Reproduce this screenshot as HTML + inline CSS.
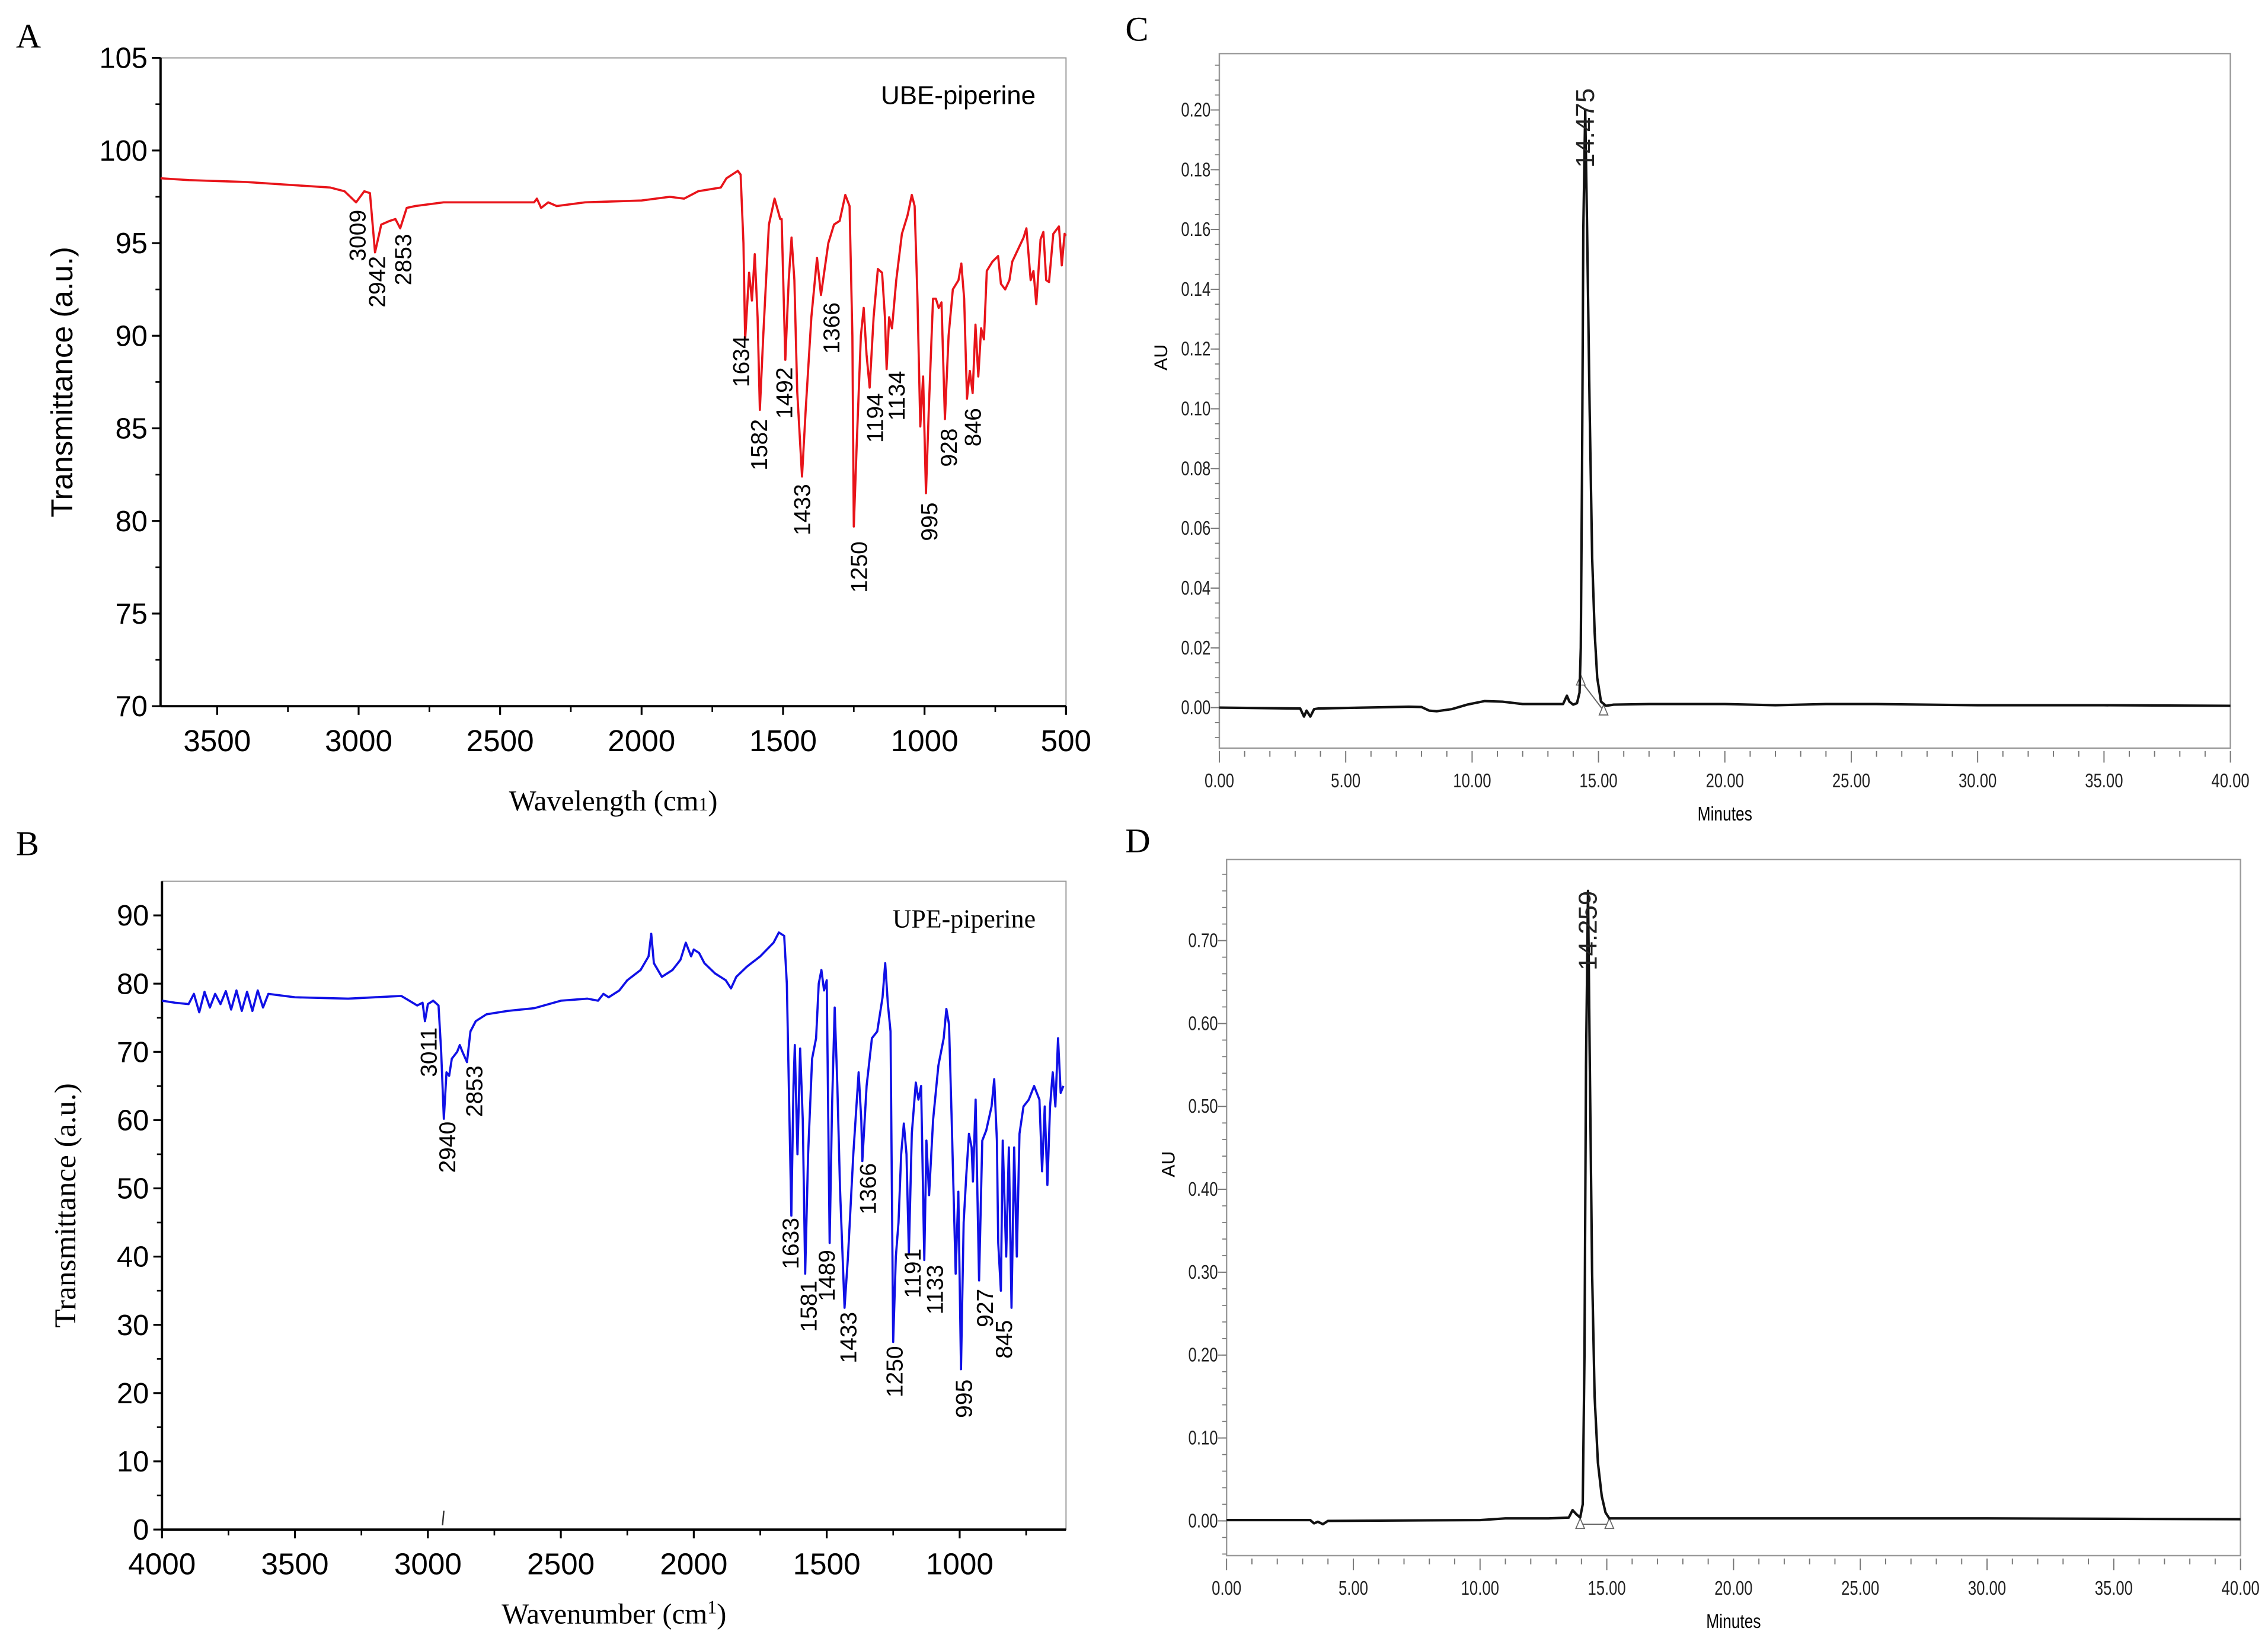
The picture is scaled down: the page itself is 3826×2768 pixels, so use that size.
<!DOCTYPE html>
<html><head><meta charset="utf-8">
<style>
html,body{margin:0;padding:0;background:#fff;}
svg{display:block;}
</style></head>
<body>
<svg id="fig" width="3826" height="2768" viewBox="0 0 1568 1134" preserveAspectRatio="none" xmlns="http://www.w3.org/2000/svg">
<rect width="1568" height="1134" fill="#fff"/>
</svg>
<script>
// ---------- Panel A data (UBE-piperine IR) ----------
const irA_wn = [3700,3600,3400,3200,3100,3050,3009,2980,2960,2942,2920,2890,2870,2853,2830,2800,2700,2500,2380,2370,2355,2330,2300,2200,2000,1900,1850,1800,1720,1700,1660,1650,1640,1634,1620,1610,1600,1590,1582,1570,1550,1530,1510,1505,1492,1480,1470,1460,1450,1433,1420,1400,1380,1366,1340,1320,1300,1280,1265,1255,1250,1240,1225,1215,1205,1194,1180,1165,1150,1140,1134,1125,1115,1100,1080,1060,1045,1035,1025,1015,1005,995,985,970,960,950,940,928,915,900,880,870,860,850,840,830,820,810,800,790,780,760,740,730,715,700,690,650,640,625,615,605,590,580,570,560,545,525,515,505,500];
const irA_T = [98.5,98.4,98.3,98.1,98.0,97.8,97.2,97.8,97.7,94.5,96.0,96.2,96.3,95.8,96.9,97.0,97.2,97.2,97.2,97.4,96.9,97.2,97.0,97.2,97.3,97.5,97.4,97.8,98.0,98.5,98.9,98.7,95,89.8,93.4,91.9,94.4,91,86,90,96,97.4,96.3,96.3,88.7,93,95.3,93,87,82.4,86,91,94.2,92.2,95,96,96.2,97.6,97,90,79.7,84,90,91.5,89,87.2,91,93.6,93.4,91,88.2,91,90.4,93,95.5,96.5,97.6,97,92,85.1,87.8,81.5,86,92,92,91.5,91.8,85.5,90,92.5,93,93.9,92,86.6,88.1,86.9,90.6,87.8,90.4,89.8,93.5,94,94.3,92.8,92.5,93,94,95.3,95.8,93,93.5,91.7,95.2,95.6,93,92.9,95.5,95.9,93.8,95.5,95.4];
const irA_xticks = [3500,3000,2500,2000,1500,1000,500];
const irA_yticks = [70,75,80,85,90,95,100,105];
const irA_labels = ["3009","2942","2853","1634","1582","1492","1433","1366","1250","1194","1134","995","928","846"];
const irA_labelWn = [3001,2932,2840,1646,1582,1493,1430,1326,1229,1173,1096,981,912,827];
const irA_labelT = [96.8,94.3,95.5,90.0,85.5,88.3,82.0,91.8,78.9,86.9,88.1,81.0,85.0,86.1];

// ---------- Panel B data (UPE-piperine IR) ----------
const irB_wn = [4000,3950,3900,3880,3860,3840,3820,3800,3780,3760,3740,3720,3700,3680,3660,3640,3620,3600,3500,3300,3100,3070,3040,3020,3011,3000,2980,2960,2950,2940,2930,2920,2910,2890,2880,2870,2853,2840,2820,2780,2700,2600,2500,2400,2360,2340,2320,2280,2250,2200,2170,2160,2150,2120,2080,2050,2030,2010,2000,1980,1960,1920,1880,1860,1840,1800,1750,1700,1680,1660,1650,1640,1633,1625,1620,1610,1600,1590,1581,1570,1555,1540,1530,1520,1510,1500,1489,1480,1470,1460,1450,1433,1420,1400,1380,1370,1366,1350,1330,1310,1290,1280,1270,1260,1250,1240,1230,1220,1210,1200,1191,1180,1165,1155,1145,1133,1125,1115,1100,1080,1060,1050,1040,1030,1020,1015,1005,995,985,975,965,955,950,940,927,915,900,880,870,860,855,845,838,825,815,805,795,785,775,760,740,720,700,690,680,670,660,650,640,630,620,610];
const irB_T = [77.5,77.2,77,78.5,75.8,78.8,76.5,78.5,77,78.9,76.2,79,76,78.8,76,79,76.5,78.5,78,77.8,78.2,77.5,76.8,77.2,74.5,77,77.5,76.8,70,60.2,67,66.5,69,70,71,70,68.5,73,74.5,75.5,76,76.4,77.5,77.8,77.5,78.5,78,79,80.5,82,84,87.3,83,81,82,83.5,86,84,85,84.5,83,81.5,80.5,79.3,81,82.5,84,86,87.5,87,80,60,46,65,71,55,70.5,60,37.5,55,69,72,80,82,79,80.5,42,62,76.5,65,50,32.5,40,55,67,60,54,65,72,73,78,83,77,73,27.5,40,45,55,59.5,55,40.5,58,65.5,63,65,39.5,57,49,60,68,72,76.3,74,60,45,37.5,49.5,23.5,45,52,58,56,51,63,36.5,57,58.5,62,66,57,42,35,57,40,56,32.5,56,40,58,62,63,65,63,52.5,62,50.5,62,67,62,72,64,65];
const irB_xticks = [4000,3500,3000,2500,2000,1500,1000];
const irB_yticks = [0,10,20,30,40,50,60,70,80,90];
const irB_labels = ["3011","2940","2853","1633","1581","1489","1433","1366","1250","1191","1133","995","927","845"];
const irB_labelWn = [2995,2924,2823,1633,1565,1497,1416,1342,1242,1174,1090,981,902,831];
const irB_labelT = [73.6,59.8,68,45.7,36.5,41,31.9,53.7,26.9,41.2,38.8,22,35.3,30.7];

// ---------- Panel C data (UBE HPLC) ----------
const hplcC_t = [0,3.2,3.35,3.45,3.6,3.75,3.9,4.5,7.5,8.0,8.3,8.6,9.2,9.8,10.5,11.2,12,13,13.6,13.75,13.85,14.0,14.15,14.25,14.3,14.35,14.4,14.475,14.55,14.65,14.75,14.85,14.95,15.1,15.3,15.6,17,20,22,24,26,30,35,40];
const hplcC_v = [0,-0.0003,-0.003,-0.001,-0.003,-0.0005,-0.0003,-0.0002,0.0003,0.0002,-0.001,-0.0012,-0.0005,0.001,0.0022,0.002,0.0012,0.0012,0.0012,0.004,0.002,0.001,0.0015,0.005,0.02,0.08,0.16,0.2,0.16,0.1,0.05,0.025,0.01,0.002,0.0006,0.001,0.0012,0.0012,0.0008,0.0012,0.0012,0.0008,0.0008,0.0006];
const hplcC_yticks = [0,0.02,0.04,0.06,0.08,0.10,0.12,0.14,0.16,0.18,0.20];
const hplcC_xticks = [0,5,10,15,20,25,30,35,40];
const hplcC_peak = "14.475";
const hplcC_marks = [14.3,15.2];
const hplcC_markV = [0.009,-0.001];

// ---------- Panel D data (UPE HPLC) ----------
const hplcD_t = [0,3.3,3.45,3.6,3.8,4.0,10,11,12.7,13.5,13.65,13.8,13.95,14.05,14.12,14.18,14.259,14.33,14.42,14.52,14.65,14.8,14.95,15.1,15.5,20,25,30,40];
const hplcD_v = [0.001,0.001,-0.003,-0.001,-0.004,0,0.001,0.003,0.003,0.004,0.013,0.008,0.004,0.02,0.2,0.55,0.76,0.55,0.3,0.15,0.07,0.03,0.01,0.003,0.003,0.003,0.003,0.003,0.002];
const hplcD_yticks = [0,0.10,0.20,0.30,0.40,0.50,0.60,0.70];
const hplcD_xticks = [0,5,10,15,20,25,30,35,40];
const hplcD_peak = "14.259";
const hplcD_marks = [13.95,15.1];
const hplcD_markV = [-0.004,-0.004];

const NS = "http://www.w3.org/2000/svg";
const svg = document.getElementById('fig');
function el(tag, attrs, parent, text){
  const e = document.createElementNS(NS, tag);
  for (const k in attrs) e.setAttribute(k, attrs[k]);
  if (text !== undefined) e.textContent = text;
  (parent || svg).appendChild(e);
  return e;
}
function lin(d0,d1,r0,r1){ return v => r0 + (v-d0)*(r1-r0)/(d1-d0); }

const SANS = '"Liberation Sans", Arial, sans-serif';
const SERIF = '"Liberation Serif", "Times New Roman", serif';

function drawIR(o){
  const g = el('g', {});
  
  
  const x = lin(o.xmax, o.xmin, o.L, o.R);
  const y = lin(o.ymin, o.ymax, o.B, o.T);
  const fr = el('rect', {x:o.L, y:o.T, width:o.R-o.L, height:o.B-o.T, fill:'none', stroke:'#999', 'stroke-width':0.8}, g);
  
  
  const ya = el('line', {x1:o.L, y1:o.T, x2:o.L, y2:o.B, stroke:'#000', 'stroke-width':1.6}, g);
  
  
  const xa = el('line', {x1:o.L, y1:o.B, x2:o.R, y2:o.B, stroke:'#000', 'stroke-width':1.6}, g);
  
  
  o.yticks.forEach((v,i)=>{
    const yy = y(v);
    el('line', {x1:o.L-6, y1:yy, x2:o.L, y2:yy, stroke:'#000', 'stroke-width':1.3}, g);
    if (i < o.yticks.length-1) { const m = y(v + (o.yticks[1]-o.yticks[0])/2); el('line', {x1:o.L-3.5, y1:m, x2:o.L, y2:m, stroke:'#000', 'stroke-width':1.1}, g); }
    const t = el('text', {x:o.L-9, y:yy+7, 'text-anchor':'end', 'font-family':SANS, 'font-size':20}, g, String(v));
    
    
  });
  const step = o.xticks[0]-o.xticks[1];
  o.xticks.forEach(v=>{
    const xx = x(v);
    el('line', {x1:xx, y1:o.B, x2:xx, y2:o.B+6, stroke:'#000', 'stroke-width':1.3}, g);
    const m = v - step/2;
    if (m >= o.xmin) { el('line', {x1:x(m), y1:o.B, x2:x(m), y2:o.B+4, stroke:'#000', 'stroke-width':1.1}, g); }
    const t = el('text', {x:xx, y:o.B+31, 'text-anchor':'middle', 'font-family':SANS, 'font-size':21}, g, String(v));
    
    
  });
  if (o.xticks[0] + step/2 <= o.xmax) { const m=o.xticks[0]+step/2; el('line', {x1:x(m), y1:o.B, x2:x(m), y2:o.B+4, stroke:'#000','stroke-width':1.1}, g); }
  const d = o.wn.map((w,i)=>(i?'L':'M')+x(w).toFixed(2)+','+y(o.tv[i]).toFixed(2)).join('');
  const p = el('path', {d:d, fill:'none', stroke:o.color, 'stroke-width':1.5, 'stroke-linejoin':'round'}, g);
  
  
  o.labels.forEach((lab,i)=>{
    const lx = x(o.labelWn[i]) + 5, ly = y(o.labelT[i]);
    const t = el('text', {x:lx, y:ly, transform:'rotate(-90 '+lx+' '+ly+')', 'text-anchor':'end', 'font-family':SANS, 'font-size':16}, g, lab);
    
    
  });
  const yt = el('text', {x:0, y:0, transform:'translate('+o.ytX+' '+((o.T+o.B)/2)+') rotate(-90)', 'text-anchor':'middle', 'font-family':o.ytFont, 'font-size':21}, g, 'Transmittance (a.u.)');
  
  
  const xt = el('text', {x:(o.L+o.R)/2, y:o.B+o.xtOff, 'text-anchor':'middle', 'font-family':SERIF, 'font-size':20}, g);
  
  
  xt.appendChild(document.createTextNode(o.xtitle + ' (cm'));
  el('tspan', {'font-size':13, dy:o.supDy}, xt, '1');
  el('tspan', {dy:-o.supDy}, xt, ')');
  const st = el('text', {x:o.R-21, y:o.T+32, 'text-anchor':'end', 'font-family':o.stFont, 'font-size':18}, g, o.sample);
  
  
  const pl = el('text', {x:o.letterX, y:o.letterY, 'font-family':SERIF, 'font-size':24}, g, o.letter);
  
  
  return {g, x, y};
}

drawIR({name:'panel-a-ir-ube', L:111, R:737, T:40, B:488, xmax:3700, xmin:500, ymin:70, ymax:105,
  xticks:irA_xticks, yticks:irA_yticks, wn:irA_wn, tv:irA_T, color:'#e8141a', seriesName:'ube-piperine-spectrum',
  labels:irA_labels, labelWn:irA_labelWn, labelT:irA_labelT, ytX:50, ytFont:SANS, xtitle:'Wavelength', supDy:0, xtOff:72,
  sample:'UBE-piperine', stFont:SANS, letter:'A', letterX:11, letterY:33});

const rB = drawIR({name:'panel-b-ir-upe', L:112, R:737, T:609, B:1057, xmax:4000, xmin:600, ymin:0, ymax:95,
  xticks:irB_xticks, yticks:irB_yticks, wn:irB_wn, tv:irB_T, color:'#1010e6', seriesName:'upe-piperine-spectrum',
  labels:irB_labels, labelWn:irB_labelWn, labelT:irB_labelT, ytX:52, ytFont:SERIF, xtitle:'Wavenumber', supDy:-7, xtOff:65,
  sample:'UPE-piperine', stFont:SERIF, letter:'B', letterX:11, letterY:591});
el('line', {x1:rB.x(2945), y1:1054, x2:rB.x(2940), y2:1044, stroke:'#333', 'stroke-width':1});

function drawHPLC(o){
  const g = el('g', {});
  
  
  const x = lin(0, 40, o.L, o.R);
  const y = lin(0, o.y1v, o.y0, o.y1);
  const fr = el('rect', {x:o.L, y:o.T, width:o.R-o.L, height:o.B-o.T, fill:'none', stroke:'#9a9a9a', 'stroke-width':1}, g);
  
  
  const ymaxV = (o.y1v) * (o.T - o.y0)/(o.y1 - o.y0);
  const yminV = (o.y1v) * (o.B - o.y0)/(o.y1 - o.y0);
  for (let k = Math.ceil(yminV/o.minorY); k*o.minorY <= ymaxV; k++){
    const yy = y(k*o.minorY);
    el('line', {x1:o.L-3, y1:yy, x2:o.L, y2:yy, stroke:'#777', 'stroke-width':0.7}, g);
  }
  o.yticks.forEach(v=>{
    const yy = y(v);
    el('line', {x1:o.L-6, y1:yy, x2:o.L, y2:yy, stroke:'#777', 'stroke-width':0.8}, g);
    const t = el('text', {x:o.L-6, y:yy+4.5, 'text-anchor':'end', 'font-family':SANS, 'font-size':13.5, fill:'#222', transform:'translate('+(o.L-6)+' 0) scale(0.78 1) translate('+(-(o.L-6))+' 0)'}, g, v.toFixed(2));
    
    
  });
  for (let m = 0; m <= 40; m++){
    const xx = x(m), major = (m % 5 === 0);
    el('line', {x1:xx, y1:o.B+2, x2:xx, y2:o.B+(major?10:6), stroke:'#777', 'stroke-width':0.8}, g);
  }
  o.xticks.forEach(v=>{
    const xx = x(v);
    const t = el('text', {x:xx, y:o.B+27, 'text-anchor':'middle', 'font-family':SANS, 'font-size':13.5, fill:'#222', transform:'translate('+xx+' 0) scale(0.78 1) translate('+(-xx)+' 0)'}, g, v.toFixed(2));
    
    
  });
  const bl = el('line', {x1:x(o.marks[0]), y1:y(o.markV[0]), x2:x(o.marks[1]), y2:y(o.markV[1]), stroke:'#666', 'stroke-width':0.8}, g);
  
  
  o.marks.forEach((m,i)=>{
    const mx = x(m), my = y(o.markV[i]);
    const tri = el('path', {d:'M'+(mx-3)+','+(my+3)+'L'+(mx+3)+','+(my+3)+'L'+mx+','+(my-4)+'Z', fill:'#fff', stroke:'#666', 'stroke-width':0.7}, g);
    
    
  });
  const d = o.t.map((t,i)=>(i?'L':'M')+x(t).toFixed(2)+','+y(o.v[i]).toFixed(2)).join('');
  const p = el('path', {d:d, fill:'none', stroke:'#111', 'stroke-width':1.7, 'stroke-linejoin':'round'}, g);
  
  
  const pk = o.v.indexOf(Math.max(...o.v));
  const lx = x(o.t[pk]) + 6, ly = y(o.v[pk]) + o.lblOff;
  const t = el('text', {x:lx, y:ly, transform:'rotate(-90 '+lx+' '+ly+')', 'text-anchor':'start', 'font-family':SANS, 'font-size':18, fill:'#222'}, g, o.peak);
  
  
  const au = el('text', {x:0, y:0, transform:'translate('+(o.L-36)+' '+((o.T+o.B)/2 - 30)+') rotate(-90)', 'text-anchor':'middle', 'font-family':SANS, 'font-size':13}, g, 'AU');
  
  
  const mt = el('text', {x:(o.L+o.R)/2, y:o.B+50, 'text-anchor':'middle', 'font-family':SANS, 'font-size':13.5, transform:'translate('+((o.L+o.R)/2)+' 0) scale(0.8 1) translate('+(-(o.L+o.R)/2)+' 0)'}, g, 'Minutes');
  
  
  const pl = el('text', {x:o.letterX, y:o.letterY, 'font-family':SERIF, 'font-size':24}, g, o.letter);
  
  
}

drawHPLC({name:'panel-c-hplc-ube', L:843, R:1542, T:37, B:517, y0:489, y1:76, y1v:0.20, minorY:0.005,
  yticks:hplcC_yticks, xticks:hplcC_xticks, t:hplcC_t, v:hplcC_v, peak:hplcC_peak, marks:hplcC_marks, markV:hplcC_markV,
  lblOff:40, letter:'C', letterX:778, letterY:28});
drawHPLC({name:'panel-d-hplc-upe', L:848, R:1549, T:594, B:1075, y0:1051, y1:650, y1v:0.70, minorY:0.02,
  yticks:hplcD_yticks, xticks:hplcD_xticks, t:hplcD_t, v:hplcD_v, peak:hplcD_peak, marks:hplcD_marks, markV:hplcD_markV,
  lblOff:55, letter:'D', letterX:778, letterY:589});
</script>
</body></html>
